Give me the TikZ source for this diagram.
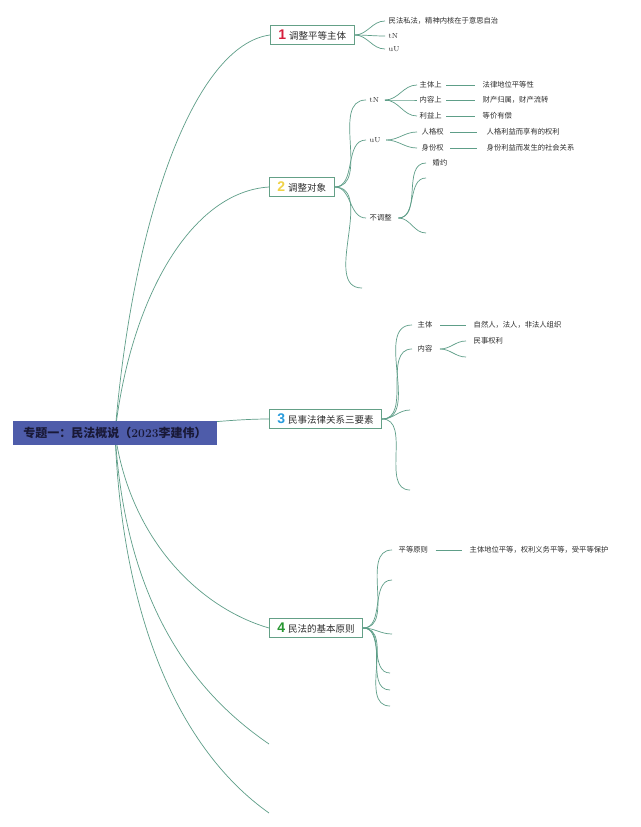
\documentclass[tikz,border=0pt]{standalone}
\usepackage{fontspec}
\newfontfamily\cjk{Noto Sans CJK SC}
\newfontfamily\numf{Liberation Sans}
\usetikzlibrary{backgrounds}
\definecolor{lc}{RGB}{94,158,136}
\definecolor{bc}{RGB}{100,160,135}
\definecolor{rootc}{RGB}{78,92,170}
\definecolor{roott}{RGB}{25,25,55}
\definecolor{nred}{RGB}{214,30,60}
\definecolor{nyel}{RGB}{240,210,70}
\definecolor{nblu}{RGB}{40,155,220}
\definecolor{ngrn}{RGB}{40,150,50}
\definecolor{tx}{RGB}{45,45,45}
\begin{document}
\begin{tikzpicture}[x=1pt,y=-1pt,
  conn/.style={draw=lc, line width=0.7pt},
  sconn/.style={conn, to path={(\tikztostart) .. controls ($(\tikztostart)!0.5!(\tikztotarget)$) .. (\tikztotarget)}},
  leaf/.style={anchor=west, inner sep=1.5pt, font=\cjk\fontsize{7.3}{8}\selectfont, text=tx},
  leafrm/.style={anchor=west, inner sep=1.5pt, font=\fontsize{7.3}{8}\selectfont, text=tx},
  branch/.style={draw=bc, fill=white, line width=0.8pt, anchor=west, minimum height=19pt, inner xsep=8pt, inner ysep=0pt, font=\cjk\fontsize{9.5}{11}\selectfont, text=tx},
  num/.style={},
]
\useasboundingbox (0,0) rectangle (640,827);

% root
\node[fill=rootc, minimum width=204pt, minimum height=24pt, inner sep=0pt, text=roott,
      font=\fontsize{12}{14}\selectfont] (root) at (115,433)
  {{\cjk\bfseries 专题一：民法概说（}{\bfseries 2023}{\cjk\bfseries 李建伟）}};

% branches
\newcommand{\bnum}[2]{{\numf\bfseries\fontsize{14}{14}\selectfont\color{#1}#2}\hspace{3pt}}
\node[branch] (n1) at (270,35) {\bnum{nred}{1}调整平等主体};
\node[branch] (n2) at (269,187) {\bnum{nyel}{2}调整对象};
\node[branch] (n3) at (269,419) {\bnum{nblu}{3}民事法律关系三要素};
\node[branch] (n4) at (269,628) {\bnum{ngrn}{4}民法的基本原则};
\coordinate (z1) at (269,744);
\coordinate (z2) at (269,813);

% branch 1 leaves
\node[leaf] (a1) at (387,21) {民法私法，精神内核在于意思自治};
\node[leafrm] (a2) at (387,36) {tN};
\node[leafrm] (a3) at (387,49) {uU};

% branch 2
\node[leafrm] (b1) at (368,100) {tN};
\node[leafrm] (b2) at (368,140) {uU};
\node[leaf] (b3) at (368,218) {不调整};
\coordinate (b4) at (362,288);

\node[leaf] (c1) at (418,85) {主体上};
\node[leaf] (c2) at (418,100) {内容上};
\node[leaf] (c3) at (418,116) {利益上};
\node[leaf] (d1) at (481,85) {法律地位平等性};
\node[leaf] (d2) at (481,100) {财产归属，财产流转};
\node[leaf] (d3) at (481,116) {等价有偿};

\node[leaf] (e1) at (420,132) {人格权};
\node[leaf] (e2) at (420,148) {身份权};
\node[leaf] (f1) at (485,132) {人格利益而享有的权利};
\node[leaf] (f2) at (485,148) {身份利益而发生的社会关系};

\node[leaf] (g1) at (431,163) {婚约};
\coordinate (g2) at (426,178);
\coordinate (g3) at (426,233);

% branch 3
\node[leaf] (h1) at (416,325) {主体};
\node[leaf] (h2) at (416,349) {内容};
\coordinate (h3) at (410,410);
\coordinate (h4) at (410,490);
\node[leaf] (i1) at (472,325) {自然人，法人，非法人组织};
\node[leaf] (j1) at (472,341) {民事权利};
\coordinate (j2) at (466,357);

% branch 4
\node[leaf] (k1) at (397,550) {平等原则};
\coordinate (k2) at (392,580);
\coordinate (k3) at (392,634);
\coordinate (k4) at (390,673);
\coordinate (k5) at (390,690);
\coordinate (k6) at (390,706);
\node[leaf] (l1) at (468,550) {主体地位平等，权利义务平等，受平等保护};

\begin{scope}[on background layer]
\fill[white] (0,0) rectangle (640,827);
% root connectors
\draw[conn] (root.center) .. controls (133,215) and (195,45) .. (n1.west);
\draw[conn] (root.center) .. controls (130,300) and (190,192) .. (n2.west);
\draw[conn] (root.center) .. controls (180,425) and (230,419) .. (n3.west);
\draw[conn] (root.center) .. controls (130,540) and (200,608) .. (n4.west);
\draw[conn] (root.center) .. controls (125,600) and (190,690) .. (z1);
\draw[conn] (root.center) .. controls (122,620) and (180,750) .. (z2);
% branch 1
\foreach \t in {a1,a2,a3} \draw[conn] (n1.east) to[out=0,in=180] ([xshift=-2pt]\t.west);
% branch 2
\foreach \t in {b1,b2,b3} \draw[conn] (n2.east) to[out=0,in=180] ([xshift=-2pt]\t.west);
\draw[conn] (n2.east) to[out=0,in=180] (b4);
\foreach \t in {c1,c2,c3} \draw[conn] ([xshift=4pt]b1.east) to[out=0,in=180] ([xshift=-1pt]\t.west);
\draw[conn] ([xshift=3pt]c1.east) -- ([xshift=-6pt]d1.west);
\draw[conn] ([xshift=3pt]c2.east) -- ([xshift=-6pt]d2.west);
\draw[conn] ([xshift=3pt]c3.east) -- ([xshift=-6pt]d3.west);
\foreach \t in {e1,e2} \draw[conn] ([xshift=4pt]b2.east) to[out=0,in=180] ([xshift=-3pt]\t.west);
\draw[conn] ([xshift=5pt]e1.east) -- ([xshift=-8pt]f1.west);
\draw[conn] ([xshift=5pt]e2.east) -- ([xshift=-8pt]f2.west);
\draw[conn] ([xshift=5pt]b3.east) to[out=0,in=180] ([xshift=-5pt]g1.west);
\draw[conn] ([xshift=5pt]b3.east) to[out=0,in=180] (g2);
\draw[conn] ([xshift=5pt]b3.east) to[out=0,in=180] (g3);
% branch 3
\foreach \t in {h1,h2} \draw[conn] (n3.east) to[out=0,in=180] ([xshift=-4pt]\t.west);
\draw[conn] (n3.east) to[out=0,in=180] (h3);
\draw[conn] (n3.east) to[out=0,in=180] (h4);
\draw[conn] ([xshift=6pt]h1.east) -- ([xshift=-6pt]i1.west);
\draw[conn] ([xshift=6pt]h2.east) to[out=0,in=180] ([xshift=-6pt]j1.west);
\draw[conn] ([xshift=6pt]h2.east) to[out=0,in=180] (j2);
% branch 4
\draw[conn] (n4.east) to[out=0,in=180] ([xshift=-5pt]k1.west);
\foreach \t in {k2,k3,k4,k5,k6} \draw[conn] (n4.east) to[out=0,in=180] (\t);
\draw[conn] ([xshift=6pt]k1.east) -- ([xshift=-6pt]l1.west);
\end{scope}
\end{tikzpicture}
\end{document}
